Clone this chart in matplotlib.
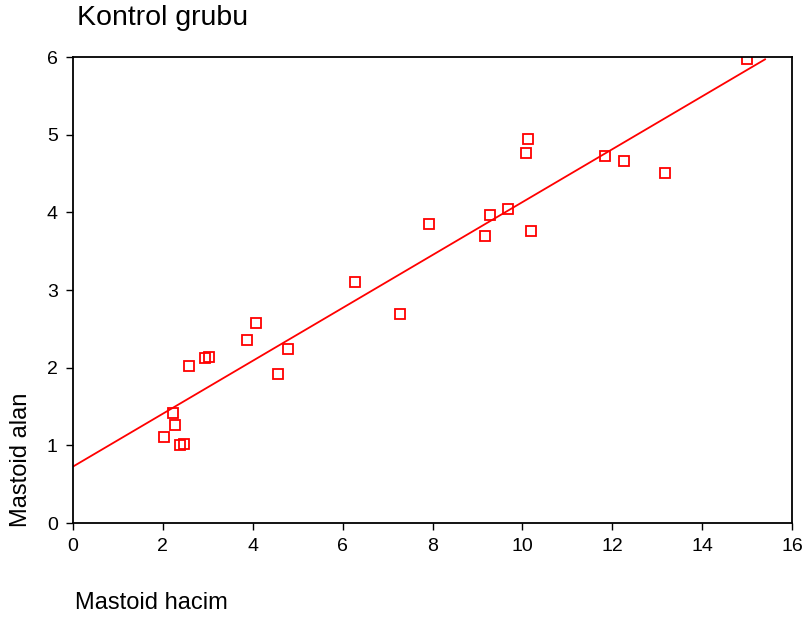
import numpy as np
import matplotlib
matplotlib.use("Agg")
import matplotlib.pyplot as plt

# mastoid volume vs area, control group
hacim = [15.0, 10.12, 10.08, 11.84, 12.26, 13.17, 9.68, 9.28, 7.92, 9.17,
         10.19, 6.27, 7.28, 4.07, 3.87, 4.78, 4.56, 2.58, 2.94, 3.03,
         2.23, 2.27, 2.02, 2.38, 2.47]
alan = [5.97, 4.94, 4.77, 4.73, 4.66, 4.51, 4.04, 3.96, 3.85, 3.70,
        3.76, 3.10, 2.69, 2.57, 2.36, 2.24, 1.92, 2.02, 2.12, 2.14,
        1.42, 1.26, 1.11, 1.00, 1.02]
fit_range = [0, 15.4]

plt.rcParams["font.family"] = ["Liberation Sans", "DejaVu Sans"]

fig = plt.figure(figsize=(8.06, 6.24), dpi=100)
ax = fig.add_axes([73 / 806, 1 - 523 / 624, 719 / 806, 466 / 624])

slope, icpt = np.polyfit(hacim, alan, 1)
xs = np.array(fit_range)
ax.plot(xs, icpt + slope * xs, color="red", lw=1.3)
ax.plot(hacim, alan, ls="none", marker="s", ms=6.5, mfc="none",
        mec="red", mew=1.3)

ax.set_xlim(0, 16)
ax.set_ylim(0, 6)
ax.set_xticks(range(0, 17, 2))
ax.set_yticks(range(0, 7))
ax.tick_params(direction="out", length=5, width=1, labelsize=14, pad=6)
for s in ax.spines.values():
    s.set_linewidth(1.3)

fig.text(77 / 806, 1 - 18 / 624, "Kontrol grubu", fontsize=20.5, va="center", ha="left")
fig.text(75 / 806, 1 - 603 / 624, "Mastoid hacim", fontsize=17, va="center", ha="left")
fig.text(21 / 806, 1 - 527 / 624, "Mastoid alan", fontsize=17, rotation=90,
         va="bottom", ha="center")

fig.savefig("out.png", dpi=100)
